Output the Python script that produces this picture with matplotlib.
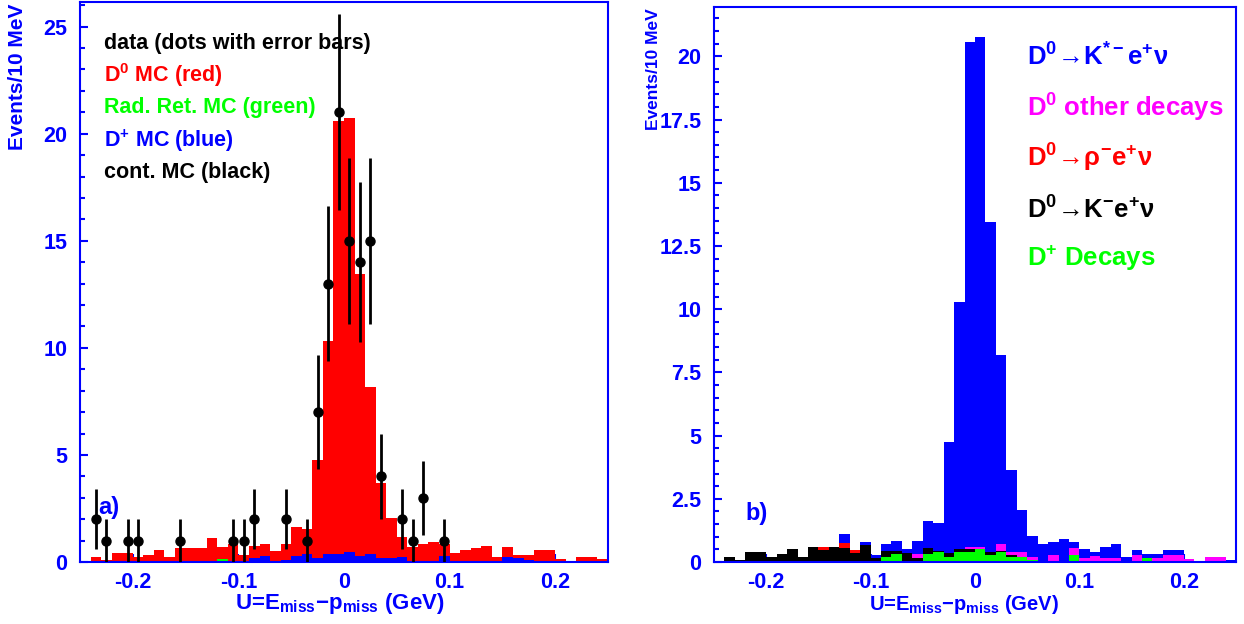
import numpy as np
import matplotlib
matplotlib.use('Agg')
import matplotlib.pyplot as plt

plt.rcParams['font.family'] = ['Liberation Sans', 'DejaVu Sans']
plt.rcParams['font.weight'] = 'bold'
plt.rcParams['mathtext.fontset'] = 'custom'
plt.rcParams['mathtext.rm'] = 'Liberation Sans:bold'
plt.rcParams['mathtext.it'] = 'Liberation Sans:bold'
plt.rcParams['mathtext.bf'] = 'Liberation Sans:bold'
plt.rcParams['mathtext.sf'] = 'Liberation Sans'

# binning: 10 MeV bins from -0.25 to 0.25 GeV
u_lo, u_hi, bin_w = -0.25, 0.25, 0.01
edges = np.arange(u_lo, u_hi - 1e-9, bin_w)

# ---- panel a) : data + MC ----
mc_total = [0, 0.23, 0.10, 0.43, 0.43, 0.23, 0.34, 0.54, 0.23, 0.65,
            0.65, 0.65, 1.14, 0.69, 0.83, 0.31, 0.74, 0.83, 0.52, 0.83,
            1.63, 1.54, 4.75, 10.3, 20.6, 20.75, 13.46, 8.15, 3.67, 2.05,
            1.19, 0.72, 0.83, 0.92, 0.83, 0.43, 0.54, 0.66, 0.74, 0.23,
            0.69, 0.34, 0.34, 0.54, 0.54, 0.14, 0.03, 0.23, 0.23, 0.14]
cont_mc = [0, 0, 0.03, 0, 0, 0, 0, 0, 0, 0,
           0.03, 0, 0, 0, 0, 0, 0, 0, 0, 0,
           0, 0, 0, 0, 0, 0, 0, 0, 0, 0,
           0.05, 0, 0, 0, 0, 0, 0, 0, 0, 0.03,
           0, 0, 0, 0, 0, 0, 0.03, 0, 0, 0]
radret_mc = [0, 0, 0, 0, 0, 0, 0, 0, 0, 0,
             0, 0, 0, 0.14, 0, 0, 0, 0, 0, 0,
             0, 0, 0, 0, 0, 0, 0, 0, 0, 0,
             0, 0, 0, 0, 0, 0, 0, 0, 0, 0,
             0, 0, 0, 0, 0, 0, 0, 0, 0, 0]
dplus_mc = [0, 0, 0, 0.05, 0.05, 0, 0, 0, 0, 0,
            0, 0, 0.05, 0, 0, 0, 0.18, 0.28, 0.05, 0.10,
            0.28, 0.37, 0.18, 0.37, 0.37, 0.46, 0.28, 0.37, 0.18, 0.18,
            0.18, 0, 0.05, 0, 0.28, 0, 0.05, 0, 0.05, 0,
            0.23, 0.18, 0.10, 0.05, 0.05, 0, 0, 0, 0.05, 0]

data_u = [-0.235, -0.225, -0.205, -0.195, -0.155, -0.105, -0.095, -0.085,
          -0.055, -0.035, -0.025, -0.015, -0.005, 0.005, 0.015, 0.025,
          0.035, 0.055, 0.065, 0.075, 0.095]
data_n = [2, 1, 1, 1, 1, 1, 1, 2, 2, 1, 7, 13, 21, 15, 14, 15, 4, 2, 1, 3, 1]

legend_a = [('data (dots with error bars)', 'black'),
            ('D$^{0}$ MC (red)', 'red'),
            ('Rad. Ret. MC (green)', '#00ff00'),
            ('D$^{+}$ MC (blue)', 'blue'),
            ('cont. MC (black)', 'black')]

# ---- panel b) : D0 MC broken down ----
dplus_dec = [0, 0, 0, 0, 0.03, 0, 0, 0, 0, 0,
             0, 0.03, 0, 0, 0, 0, 0.18, 0.30, 0.03, 0.05,
             0.30, 0.38, 0.20, 0.38, 0.40, 0.50, 0.27, 0.38, 0.20, 0.18,
             0.07, 0.03, 0.03, 0.03, 0.29, 0, 0, 0.03, 0.03, 0,
             0.03, 0.16, 0.03, 0.03, 0.03, 0, 0, 0.03, 0.03, 0]
kenu = [0, 0.19, 0.08, 0.40, 0.37, 0.19, 0.30, 0.50, 0.19, 0.60,
        0.46, 0.57, 0.56, 0.37, 0.69, 0.16, 0.26, 0.15, 0.32, 0.12,
        0.26, 0.07, 0.17, 0.12, 0.10, 0, 0.11, 0.07, 0.07, 0,
        0, 0, 0, 0, 0, 0, 0, 0, 0, 0,
        0, 0, 0, 0, 0, 0, 0, 0, 0, 0]
rhoenu = [0, 0, 0, 0, 0, 0, 0, 0, 0, 0,
          0.14, 0, 0.20, 0.12, 0, 0, 0, 0, 0, 0,
          0, 0, 0, 0, 0, 0, 0, 0, 0, 0,
          0, 0, 0, 0, 0, 0, 0, 0, 0, 0,
          0, 0, 0, 0, 0, 0, 0, 0, 0, 0]
d0_other = [0, 0, 0, 0, 0, 0, 0, 0, 0, 0,
            0, 0, 0, 0, 0, 0, 0, 0, 0, 0.15,
            0, 0, 0, 0, 0.08, 0.08, 0, 0.27, 0.11, 0.20,
            0.11, 0, 0.26, 0.02, 0.27, 0.16, 0.24, 0.13, 0.13, 0,
            0.26, 0, 0.13, 0.26, 0.26, 0.10, 0, 0.16, 0.16, 0]
kstar_enu = [0, 0, 0, 0, 0, 0, 0, 0, 0, 0,
             0, 0, 0.34, 0, 0.11, 0.13, 0.28, 0.38, 0.17, 0.50,
             1.08, 1.11, 4.37, 9.77, 20.0, 20.19, 13.08, 7.45, 3.27, 1.67,
             0.85, 0.70, 0.51, 0.85, 0.24, 0.34, 0.16, 0.44, 0.54, 0.20,
             0.20, 0.14, 0.14, 0.20, 0.20, 0, 0, 0, 0, 0.08]

arrow = r'$\mathsf{\!\rightarrow\!}$'
legend_b = [(r'D$^{\mathsf{0}}$' + arrow + r'K$^{*-}$e$^{+}$$\mathsf{\nu}$', 'blue'),
            (r'D$^{\mathsf{0}}$ other decays', 'magenta'),
            (r'D$^{\mathsf{0}}$' + arrow + r'$\mathsf{\rho}^{-}$e$^{+}$$\mathsf{\nu}$', 'red'),
            (r'D$^{\mathsf{0}}$' + arrow + r'K$^{-}$e$^{+}$$\mathsf{\nu}$', 'black'),
            (r'D$^{+}$ Decays', '#00ff00')]

xlabel = r'U=E$_{\mathrm{miss}}$$-$p$_{\mathrm{miss}}$ (GeV)'
ylabel = 'Events/10 MeV'
axis_col = 'blue'


def style_axes(ax):
    for s in ax.spines.values():
        s.set_color(axis_col)
        s.set_linewidth(1.5)
    ax.set_axisbelow(True)
    ax.tick_params(which='both', direction='in', colors=axis_col,
                   labelcolor=axis_col, width=1.5, top=False, right=False)
    ax.tick_params(which='major', length=6, labelsize=15.5)
    ax.tick_params(which='minor', length=3.5)
    ax.tick_params(axis='y', pad=9)
    ax.tick_params(axis='x', pad=7)
    ax.set_xlim(u_lo, u_hi)
    ax.set_xticks([-0.2, -0.1, 0, 0.1, 0.2])
    ax.set_xticklabels(['-0.2', '-0.1', '0', '0.1', '0.2'])
    ax.set_xticks([], minor=True)


def stack(ax, layers):
    bottom = np.zeros(len(edges))
    for vals, col in layers:
        vals = np.asarray(vals, dtype=float)
        ax.bar(edges, vals, width=bin_w, bottom=bottom, align='edge',
               color=col, linewidth=0)
        bottom = bottom + vals


def bold_ticks(ax):
    for lab in ax.get_xticklabels() + ax.get_yticklabels():
        lab.set_fontweight('bold')


fig = plt.figure(figsize=(12.44, 6.24), dpi=100)
ax1 = fig.add_axes([80 / 1244, 62 / 624, 528 / 1244, 560 / 624])
ax2 = fig.add_axes([714 / 1244, 62 / 624, 522 / 1244, 555 / 624])

# panel a
d0_mc = np.asarray(mc_total) - np.asarray(cont_mc) - np.asarray(radret_mc) - np.asarray(dplus_mc)
stack(ax1, [(cont_mc, 'black'), (radret_mc, '#00ff00'),
            (dplus_mc, 'blue'), (d0_mc, 'red')])
data_n = np.asarray(data_n, dtype=float)
ax1.errorbar(data_u, data_n, yerr=np.sqrt(data_n), xerr=0.003, fmt='o',
             color='black', ms=6.5, elinewidth=2, capsize=0, zorder=5)
style_axes(ax1)
ax1.set_ylim(0, 26.15)
ax1.set_yticks(np.arange(0, 26, 5))
ax1.set_yticks(np.arange(0, 26.1, 1), minor=True)
bold_ticks(ax1)
for i, (txt, col) in enumerate(legend_a):
    ax1.text(0.045, [0.925, 0.869, 0.811, 0.752, 0.695][i], txt, color=col,
             fontsize=15.5, fontweight='bold', transform=ax1.transAxes,
             va='center', ha='left')
ax1.text(0.034, 0.098, 'a)', color='blue', fontsize=17, fontweight='bold',
         transform=ax1.transAxes, va='center')

# panel b
stack(ax2, [(dplus_dec, '#00ff00'), (kenu, 'black'), (rhoenu, 'red'),
            (d0_other, 'magenta'), (kstar_enu, 'blue')])
style_axes(ax2)
ax2.set_ylim(0, 21.95)
ax2.set_yticks(np.arange(0, 20.1, 2.5))
ax2.set_yticklabels(['0', '2.5', '5', '7.5', '10', '12.5', '15', '17.5', '20'])
ax2.set_yticks(np.arange(0, 21.9, 0.5), minor=True)
bold_ticks(ax2)
for i, (txt, col) in enumerate(legend_b):
    ax2.text(0.60, [0.91, 0.818, 0.728, 0.634, 0.548][i], txt, color=col,
             fontsize=18.5, fontweight='bold', transform=ax2.transAxes,
             va='center', ha='left')
ax2.text(0.061, 0.087, 'b)', color='blue', fontsize=17, fontweight='bold',
         transform=ax2.transAxes, va='center')

# axis titles
fig.text(18 / 1244, 1 - 4 / 624, ylabel, rotation=90, ha='center', va='top',
         color=axis_col, fontsize=15, fontweight='bold')
fig.text(653 / 1244, 1 - 8 / 624, ylabel, rotation=90, ha='center', va='top',
         color=axis_col, fontsize=12.5, fontweight='bold')
fig.text(340 / 1244, 1 - 604 / 624, xlabel, ha='center', va='center',
         color=axis_col, fontsize=16, fontweight='bold')
fig.text(964 / 1244, 1 - 604 / 624, xlabel, ha='center', va='center',
         color=axis_col, fontsize=14.5, fontweight='bold')

fig.savefig('out.png', dpi=100)
